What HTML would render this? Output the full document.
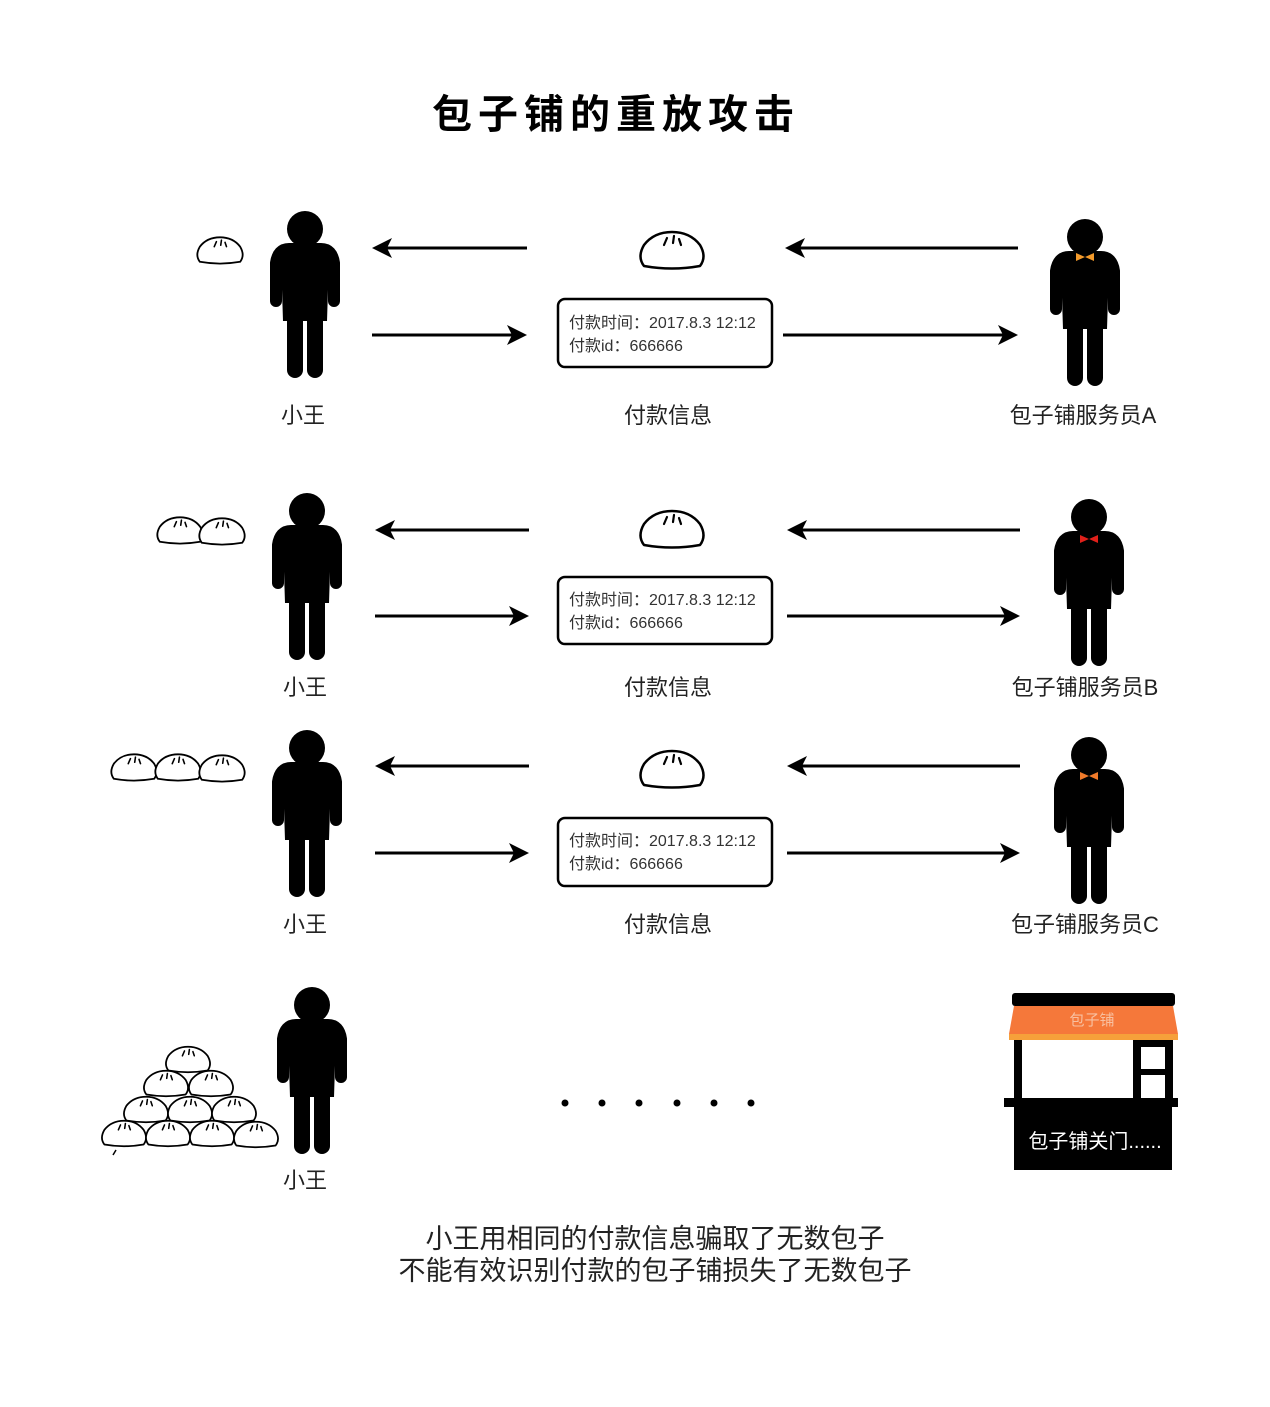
<!DOCTYPE html>
<html><head><meta charset="utf-8"><style>
html,body{margin:0;padding:0;background:#fff;}
svg text{font-family:"Liberation Sans","Noto Sans CJK SC",sans-serif;}
</style></head><body>
<svg width="1270" height="1402" viewBox="0 0 1270 1402" xmlns="http://www.w3.org/2000/svg">
<defs>
<g id="person">
 <circle cx="0" cy="0" r="18" fill="#000"/>
 <path d="M-16,20 L16,20 Q27,20 29,34 L29,72 M-16,20 Q-27,20 -29,34 L-29,72" stroke="#000" stroke-width="12" stroke-linecap="round" stroke-linejoin="round" fill="none"/>
 <path d="M-24,30 Q-24,20 -14,20 L14,20 Q24,20 24,30 L22,92 L-22,92 Z" fill="#000"/>
 <line x1="-10" y1="88" x2="-10" y2="141" stroke="#000" stroke-width="16" stroke-linecap="round"/>
 <line x1="10" y1="88" x2="10" y2="141" stroke="#000" stroke-width="16" stroke-linecap="round"/>
</g>
<g id="bun">
 <path d="M-28,15 Q-35,6 -28,-6 Q-18,-19 0,-19 Q18,-19 28,-6 Q35,6 28,15 Q0,20 -28,15 Z" fill="#fff" stroke="#000" stroke-width="2.5" stroke-linejoin="round"/>
 <path d="M-8,-6 L-5,-13 M1,-8 L2,-15 M9,-6 L7,-12" stroke="#000" stroke-width="2.2" stroke-linecap="round"/>
</g>
</defs>

<text x="616" y="128" font-size="40" font-weight="bold" text-anchor="middle" letter-spacing="6">包子铺的重放攻击</text>

<g stroke="#000" stroke-width="3" fill="#000">
 <line x1="527" y1="248" x2="385" y2="248"/><path d="M372,248 L392,238 L387,248 L392,258 Z" stroke="none"/>
 <line x1="372" y1="335" x2="514" y2="335"/><path d="M527,335 L507,325 L512,335 L507,345 Z" stroke="none"/>
 <line x1="1018" y1="248" x2="798" y2="248"/><path d="M785,248 L805,238 L800,248 L805,258 Z" stroke="none"/>
 <line x1="783" y1="335" x2="1005" y2="335"/><path d="M1018,335 L998,325 L1003,335 L998,345 Z" stroke="none"/>
 <line x1="529" y1="530" x2="388" y2="530"/><path d="M375,530 L395,520 L390,530 L395,540 Z" stroke="none"/>
 <line x1="375" y1="616" x2="516" y2="616"/><path d="M529,616 L509,606 L514,616 L509,626 Z" stroke="none"/>
 <line x1="1020" y1="530" x2="800" y2="530"/><path d="M787,530 L807,520 L802,530 L807,540 Z" stroke="none"/>
 <line x1="787" y1="616" x2="1007" y2="616"/><path d="M1020,616 L1000,606 L1005,616 L1000,626 Z" stroke="none"/>
 <line x1="529" y1="766" x2="388" y2="766"/><path d="M375,766 L395,756 L390,766 L395,776 Z" stroke="none"/>
 <line x1="375" y1="853" x2="516" y2="853"/><path d="M529,853 L509,843 L514,853 L509,863 Z" stroke="none"/>
 <line x1="1020" y1="766" x2="800" y2="766"/><path d="M787,766 L807,756 L802,766 L807,776 Z" stroke="none"/>
 <line x1="787" y1="853" x2="1007" y2="853"/><path d="M1020,853 L1000,843 L1005,853 L1000,863 Z" stroke="none"/>
</g>

<use href="#person" transform="translate(305,229)"/>
<use href="#person" transform="translate(1085,237)"/>
<use href="#person" transform="translate(307,511)"/>
<use href="#person" transform="translate(1089,517)"/>
<use href="#person" transform="translate(307,748)"/>
<use href="#person" transform="translate(1089,755)"/>
<use href="#person" transform="translate(312,1005)"/>
<path d="M1076,253 L1076,261 L1085,257 L1094,261 L1094,253 L1085,257 Z" fill="#f39a2b"/>
<path d="M1080,535 L1080,543 L1089,539 L1098,543 L1098,535 L1089,539 Z" fill="#e0201a"/>
<path d="M1080,772 L1080,780 L1089,776 L1098,780 L1098,772 L1089,776 Z" fill="#f07a2a"/>

<use href="#bun" transform="translate(672,251)"/>
<use href="#bun" transform="translate(672,530)"/>
<use href="#bun" transform="translate(672,770)"/>
<use href="#bun" transform="translate(220,251) scale(0.72)"/>
<use href="#bun" transform="translate(180,531) scale(0.72)"/>
<use href="#bun" transform="translate(222,532) scale(0.72)"/>
<use href="#bun" transform="translate(134,768) scale(0.72)"/>
<use href="#bun" transform="translate(178,768) scale(0.72)"/>
<use href="#bun" transform="translate(222,769) scale(0.72)"/>
<use href="#bun" transform="translate(188,1060) scale(0.7)"/>
<use href="#bun" transform="translate(166,1084) scale(0.7)"/>
<use href="#bun" transform="translate(211,1084) scale(0.7)"/>
<use href="#bun" transform="translate(146,1110) scale(0.7)"/>
<use href="#bun" transform="translate(190,1110) scale(0.7)"/>
<use href="#bun" transform="translate(234,1110) scale(0.7)"/>
<use href="#bun" transform="translate(124,1134) scale(0.7)"/>
<use href="#bun" transform="translate(168,1134) scale(0.7)"/>
<use href="#bun" transform="translate(212,1134) scale(0.7)"/>
<use href="#bun" transform="translate(256,1135) scale(0.7)"/>
<line x1="116" y1="1150" x2="113" y2="1155" stroke="#000" stroke-width="1.5"/>

<g fill="#fff" stroke="#000" stroke-width="2.5">
 <rect x="558" y="299" width="214" height="68" rx="7"/>
 <rect x="558" y="577" width="214" height="67" rx="7"/>
 <rect x="558" y="818" width="214" height="68" rx="7"/>
</g>
<g font-size="16" fill="#333">
 <text x="569" y="328">付款时间：2017.8.3  12:12</text>
 <text x="569" y="351">付款id：666666</text>
 <text x="569" y="605">付款时间：2017.8.3  12:12</text>
 <text x="569" y="628">付款id：666666</text>
 <text x="569" y="846">付款时间：2017.8.3  12:12</text>
 <text x="569" y="869">付款id：666666</text>
</g>

<g font-size="22" fill="#222" text-anchor="middle">
 <text x="303" y="423">小王</text>
 <text x="668" y="423">付款信息</text>
 <text x="1083" y="423">包子铺服务员A</text>
 <text x="305" y="695">小王</text>
 <text x="668" y="695">付款信息</text>
 <text x="1085" y="695">包子铺服务员B</text>
 <text x="305" y="932">小王</text>
 <text x="668" y="932">付款信息</text>
 <text x="1085" y="932">包子铺服务员C</text>
 <text x="305" y="1188">小王</text>
</g>

<g fill="#000">
 <circle cx="565" cy="1103" r="3.5"/><circle cx="602" cy="1103" r="3.5"/><circle cx="639" cy="1103" r="3.5"/>
 <circle cx="677" cy="1103" r="3.5"/><circle cx="714" cy="1103" r="3.5"/><circle cx="751" cy="1103" r="3.5"/>
</g>

<rect x="1012" y="993" width="163" height="13" rx="3" fill="#000"/>
<path d="M1014,1006 L1173,1006 L1178,1034 L1009,1034 Z" fill="#f5783a"/>
<path d="M1009,1034 L1178,1034 L1178,1040 L1009,1040 Z" fill="#f6a03a"/>
<text x="1092" y="1025" font-size="15" fill="#f8c0a0" text-anchor="middle">包子铺</text>
<rect x="1014" y="1040" width="8" height="62" fill="#000"/>
<rect x="1133" y="1040" width="40" height="62" fill="#000"/>
<rect x="1141" y="1047" width="24" height="22" fill="#fff"/>
<rect x="1141" y="1075" width="24" height="23" fill="#fff"/>
<rect x="1004" y="1098" width="174" height="9" fill="#000"/>
<rect x="1014" y="1107" width="158" height="63" fill="#000"/>
<text x="1095" y="1148" font-size="20" fill="#fff" text-anchor="middle">包子铺关门......</text>

<g font-size="27" fill="#222" text-anchor="middle">
 <text x="655" y="1248">小王用相同的付款信息骗取了无数包子</text>
 <text x="655" y="1280">不能有效识别付款的包子铺损失了无数包子</text>
</g>
</svg>
</body></html>
